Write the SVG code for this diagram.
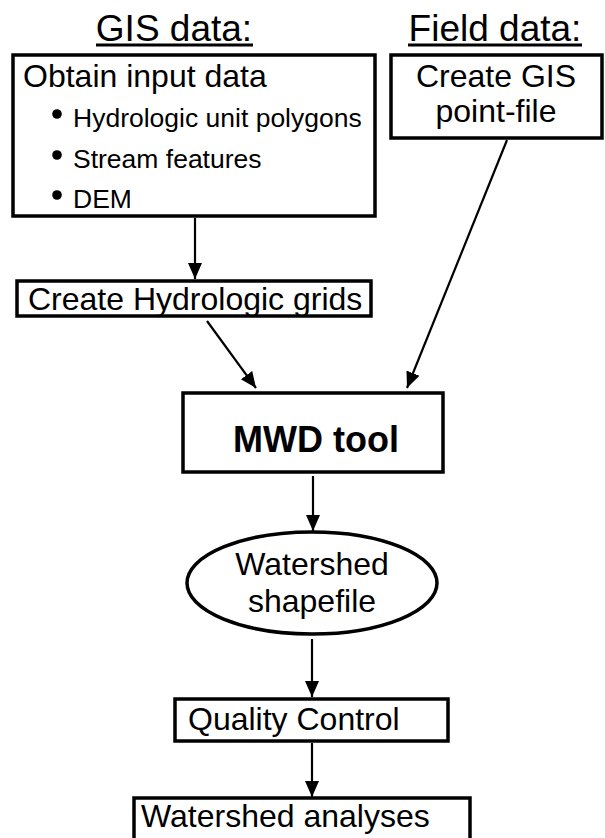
<svg xmlns="http://www.w3.org/2000/svg" width="605" height="838" viewBox="0 0 605 838">
<defs>
<marker id="ah" markerWidth="16" markerHeight="16" refX="16" refY="8" orient="auto" markerUnits="userSpaceOnUse">
<path d="M0,1 L16,8 L0,15 Z" fill="#000"/>
</marker>
<style>
.box{fill:#fff;stroke:#000;stroke-width:3.5}
.t{font-family:"Liberation Sans",Arial,sans-serif;fill:#000}
.c{stroke:#000;stroke-width:2.2;fill:none;marker-end:url(#ah)}
</style>
</defs>
<rect width="605" height="838" fill="#fff"/>
<g id="title-gis">
<text class="t" x="174" y="41" font-size="37" text-anchor="middle">GIS data:</text>
<line x1="96" y1="45" x2="253" y2="45" stroke="#000" stroke-width="3"/>
</g>
<g id="title-field">
<text class="t" x="495" y="41" font-size="37" text-anchor="middle">Field data:</text>
<line x1="408" y1="45" x2="582" y2="45" stroke="#000" stroke-width="3"/>
</g>
<g id="obtain">
<rect class="box" x="13" y="55" width="362" height="161"/>
<text class="t" x="23" y="87" font-size="32">Obtain input data</text>
<circle cx="57" cy="114" r="4.8"/>
<text class="t" x="73" y="127" font-size="26.5">Hydrologic unit polygons</text>
<circle cx="57" cy="155" r="4.8"/>
<text class="t" x="73" y="168" font-size="26.5">Stream features</text>
<circle cx="57" cy="195" r="4.8"/>
<text class="t" x="73" y="208" font-size="26.5">DEM</text>
</g>
<g id="field">
<rect class="box" x="391" y="55" width="211" height="83"/>
<text class="t" x="496" y="87" font-size="32" text-anchor="middle">Create GIS</text>
<text class="t" x="496" y="122" font-size="32" text-anchor="middle">point-file</text>
</g>
<g id="grids">
<rect class="box" x="17" y="281" width="354" height="35"/>
<text class="t" x="28" y="310" font-size="32">Create Hydrologic grids</text>
</g>
<g id="mwd">
<rect class="box" x="183" y="393" width="260" height="79"/>
<text class="t" x="316" y="452" font-size="36" font-weight="bold" text-anchor="middle">MWD tool</text>
</g>
<g id="shapefile">
<ellipse cx="312" cy="583" rx="125" ry="51" fill="#fff" stroke="#000" stroke-width="3.5"/>
<text class="t" x="312" y="575" font-size="32" text-anchor="middle">Watershed</text>
<text class="t" x="312" y="612" font-size="32" text-anchor="middle">shapefile</text>
</g>
<g id="qc">
<rect class="box" x="175" y="699" width="273" height="42"/>
<text class="t" x="188" y="730" font-size="32">Quality Control</text>
</g>
<g id="analyses">
<rect class="box" x="134" y="798" width="336" height="48"/>
<text class="t" x="141" y="827" font-size="32">Watershed analyses</text>
</g>
<g id="connectors">
<line class="c" x1="195" y1="218" x2="195" y2="279"/>
<line class="c" x1="507" y1="140" x2="407" y2="388"/>
<line class="c" x1="207" y1="321" x2="256" y2="388"/>
<line class="c" x1="313" y1="476" x2="313" y2="531"/>
<line class="c" x1="312" y1="639" x2="312" y2="697"/>
<line class="c" x1="312" y1="743" x2="312" y2="797"/>
</g>
</svg>
